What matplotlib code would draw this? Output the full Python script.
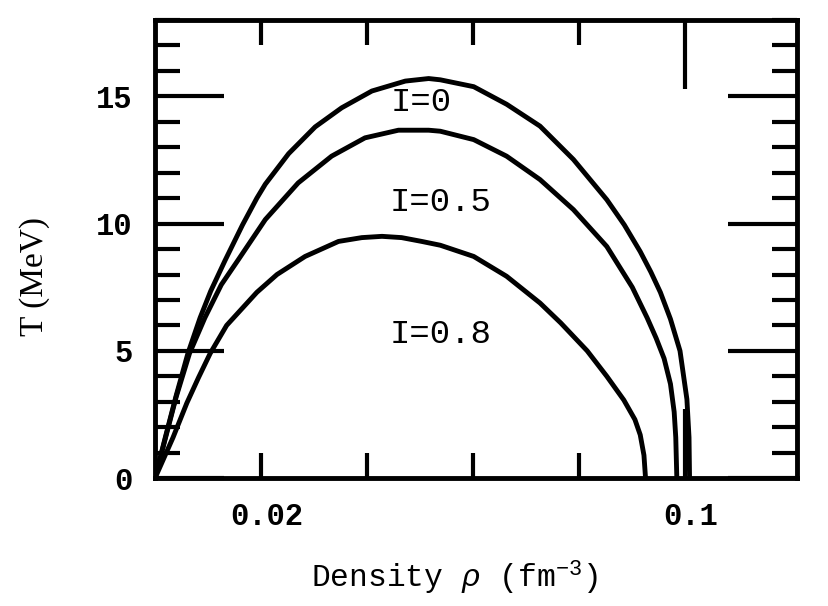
import numpy as np
import matplotlib
matplotlib.use('Agg')
import matplotlib.pyplot as plt
from matplotlib.ticker import FixedLocator, MultipleLocator

plt.rcParams['font.family'] = ['Liberation Mono', 'DejaVu Sans']
plt.rcParams['mathtext.fontset'] = 'custom'
plt.rcParams['mathtext.rm'] = 'Liberation Mono'
plt.rcParams['mathtext.it'] = 'Liberation Mono:italic'

# curves T(rho)
rho_i0 = [0, 0.002, 0.004, 0.0062, 0.0085, 0.0105, 0.0132, 0.0165, 0.0192, 0.0208, 0.0252, 0.0302,
          0.0352, 0.0409, 0.0472, 0.0516, 0.0538, 0.0601, 0.0663, 0.0726, 0.0789, 0.0852,
          0.0885, 0.0915, 0.0935, 0.0953, 0.0972, 0.099, 0.1003, 0.1007, 0.1008]
t_i0 = [0, 1.65, 3.25, 4.9, 6.3, 7.35, 8.55, 9.95, 11.0, 11.55, 12.75, 13.8,
        14.55, 15.21, 15.6, 15.7, 15.65, 15.38, 14.69, 13.83, 12.52, 10.94,
        9.95, 8.9, 8.1, 7.3, 6.25, 5.0, 3.1, 1.6, 0]

rho_i05 = [0, 0.002, 0.004, 0.0065, 0.0094, 0.0125, 0.0157, 0.0208, 0.027, 0.0333, 0.0396,
           0.0459, 0.0516, 0.0538, 0.0601, 0.0663, 0.0726, 0.0789, 0.0852, 0.09, 0.0928,
           0.0945, 0.096, 0.0972, 0.0979, 0.0982, 0.0984]
t_i05 = [0, 1.6, 3.2, 4.9, 6.3, 7.6, 8.58, 10.16, 11.6, 12.65, 13.37,
         13.67, 13.67, 13.63, 13.3, 12.65, 11.73, 10.55, 9.1, 7.5, 6.3,
         5.5, 4.7, 3.7, 2.6, 1.6, 0]

rho_i08 = [0, 0.0034, 0.006, 0.0082, 0.0104, 0.0135, 0.0192, 0.023, 0.0283, 0.0346, 0.039,
           0.0428, 0.0465, 0.0503, 0.0538, 0.0601, 0.0663, 0.0726, 0.0765, 0.0815, 0.0852,
           0.0884, 0.0905, 0.0915, 0.0922, 0.0925]
t_i08 = [0, 1.6, 2.95, 3.95, 4.9, 6.0, 7.3, 8.0, 8.71, 9.3, 9.45,
         9.5, 9.45, 9.3, 9.15, 8.71, 7.93, 6.88, 6.1, 5.0, 4.0,
         3.07, 2.3, 1.7, 0.9, 0]

curve_labels = ['I=0', 'I=0.5', 'I=0.8']
label_pos = [(0.0502, 14.76), (0.0538, 10.83), (0.0538, 5.63)]

xticks = [0.02, 0.1]
xtick_labels = ['0.02', '0.1']
yticks = [0, 5, 10, 15]

fig = plt.figure(figsize=(8.29, 6.06), dpi=100)
ax = fig.add_axes([0.187, 0.211, 0.774, 0.756])

for r, t in [(rho_i0, t_i0), (rho_i05, t_i05), (rho_i08, t_i08)]:
    ax.plot(r, t, color='black', lw=3.5, solid_joinstyle='round', solid_capstyle='butt')

for s, (lx, ly) in zip(curve_labels, label_pos):
    ax.text(lx, ly, s, ha='center', va='center', fontsize=24.5)

ax.set_xlim(0, 0.121)
ax.set_ylim(0, 18)

ax.xaxis.set_major_locator(FixedLocator([0.1]))
ax.xaxis.set_minor_locator(FixedLocator([0.02, 0.04, 0.06, 0.08]))
ax.set_xticklabels([])
ax.yaxis.set_major_locator(FixedLocator(yticks))
ax.yaxis.set_minor_locator(MultipleLocator(1))

ax.tick_params(which='both', direction='in', top=True, right=True, width=3, color='black')
ax.tick_params(which='major', length=50)
ax.tick_params(which='minor', length=18)
ax.tick_params(axis='y', which='major', pad=16, labelsize=22)
for lab in ax.get_yticklabels():
    lab.set_fontweight('bold')

# x labels: 0.02 sits on a short tick, 0.1 on the long one
for xv, xl in zip(xticks, xtick_labels):
    ax.text(xv + 0.001, -0.085, xl, transform=ax.get_xaxis_transform(),
            ha='center', va='center', fontsize=22, fontweight='bold')

for sp in ax.spines.values():
    sp.set_linewidth(3.5)

ax.set_xlabel(r'Density $\rho$ (fm$^{-3}$)', fontsize=22.5)
ax.set_ylabel('T (MeV)', fontsize=24, family='Liberation Serif')
ax.xaxis.set_label_coords(0.467, -0.218)
ax.yaxis.set_label_coords(-0.187, 0.44)
ax.xaxis.label.set_va('center')
ax.yaxis.label.set_va('center')

fig.savefig('out.png', dpi=100)
